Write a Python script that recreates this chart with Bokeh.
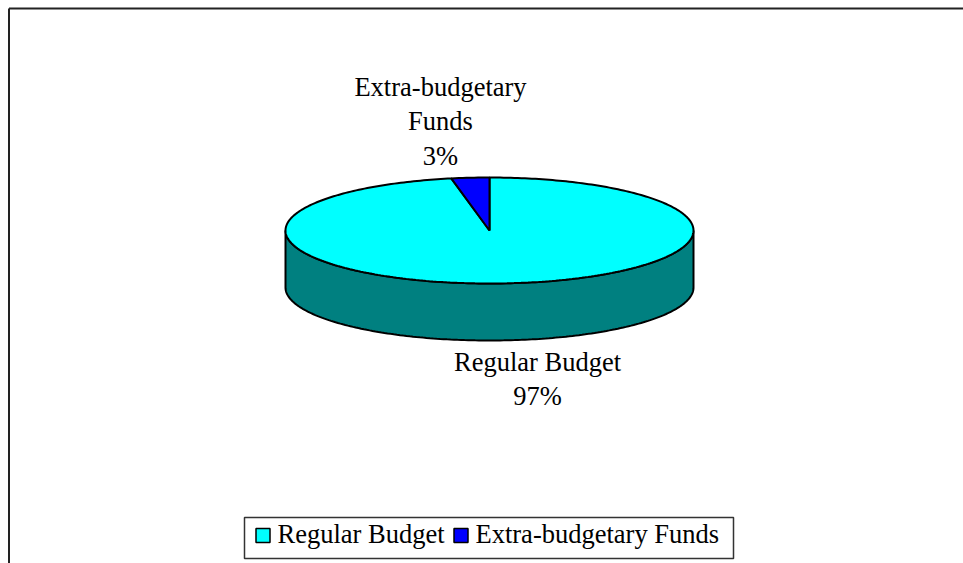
import math
import textwrap
from bokeh.plotting import figure
from bokeh.models import Range1d, ColumnDataSource
from bokeh.embed import file_html
from bokeh.resources import INLINE
from bokeh.core.properties import value

# ---- data ----
categories = ["Regular Budget", "Extra-budgetary Funds"]
values = [97, 3]
top_colors = ["#00FFFF", "#0000FF"]
side_colors = ["#008080", "#000080"]

# ---- layout (pixel space of the figure, y grows downward) ----
W, H = 963, 563
CX, CY = 489, 230          # centre of top ellipse
A, B = 204, 53             # semi axes of top ellipse
DEPTH = 57                 # thickness of the 3D pie
FONT = "Liberation Serif"
FS = "26.5px"
LINE_H = 34.5
label_anchor = {"Regular Budget": (537, 361), "Extra-budgetary Funds": (440, 86)}
legend_box = (244, 733, 517, 558)
legend_sq_x = [262.5, 460.5]
legend_txt_x = [277, 475]
legend_y = 535
legend_base = 533
SQ = 14

p = figure(width=W, height=H, x_range=Range1d(0, W), y_range=Range1d(H, 0),
           output_backend="svg", toolbar_location=None, min_border=0,
           x_axis_location=None, y_axis_location=None,
           outline_line_color=None, background_fill_color="white",
           border_fill_color="white")
p.grid.visible = False

# chart frame (top and left edges visible)
p.line(x=[8.5, 8.5], y=[H, 8], line_color="#222222", line_width=2)
p.line(x=[8.5, W], y=[8, 8], line_color="#222222", line_width=2)


def pt(theta_deg, dy=0.0):
    t = math.radians(theta_deg)
    return CX + A * math.cos(t), CY - B * math.sin(t) + dy


def arc(lo, hi, dy=0.0, step=1.0):
    n = max(2, int(abs(hi - lo) / step) + 1)
    return [pt(lo + (hi - lo) * i / (n - 1), dy) for i in range(n)]


total = float(sum(values))
start = 90.0
slices = []
for cat, v in zip(categories, values):
    sweep = v / total * 360.0
    end = start - sweep
    slices.append((end, start))
    start = end

# side faces (front half only)
side_xs, side_ys, side_fc = [], [], []
for (lo, hi), col in zip(slices, side_colors):
    for k in range(-3, 3):
        flo, fhi = 180 + 360 * k, 360 + 360 * k
        a0, a1 = max(lo, flo), min(hi, fhi)
        if a1 > a0:
            top = arc(a0, a1)
            bot = arc(a1, a0, DEPTH)
            pts = top + bot
            side_xs.append([q[0] for q in pts])
            side_ys.append([q[1] for q in pts])
            side_fc.append(col)
p.patches(xs=side_xs, ys=side_ys, fill_color=side_fc, line_color="black", line_width=2)

# top faces
top_xs, top_ys = [], []
for (lo, hi) in slices:
    pts = [(CX, CY)] + arc(lo, hi) + [(CX, CY)]
    top_xs.append([q[0] for q in pts])
    top_ys.append([q[1] for q in pts])
p.patches(xs=top_xs, ys=top_ys, fill_color=top_colors, line_color="black", line_width=2)

# data labels
lx, ly, lt = [], [], []
for cat, v in zip(categories, values):
    lines = textwrap.fill(cat, 16).split("\n") + [f"{round(v / total * 100)}%"]
    ax, ay = label_anchor[cat]
    for i, s in enumerate(lines):
        lx.append(ax)
        ly.append(ay + i * LINE_H)
        lt.append(s)
p.text(x="x", y="y", text="t", source=ColumnDataSource(dict(x=lx, y=ly, t=lt)),
       text_font=value(FONT), text_font_size=value(FS), text_color="black",
       text_align="center", text_baseline="alphabetic")

# legend
l, r, t, b = legend_box
p.quad(left=[l], right=[r], top=[t], bottom=[b], fill_color="white",
       line_color="#333333", line_width=1.5)
p.rect(x=legend_sq_x, y=[legend_y] * len(categories), width=SQ, height=SQ,
       fill_color=top_colors, line_color="black", line_width=1.5)
p.text(x=legend_txt_x, y=[legend_base] * len(categories), text=categories,
       text_font=value(FONT), text_font_size=value(FS), text_color="black",
       text_align="left", text_baseline="alphabetic")

open("out.html", "w").write(file_html(p, INLINE))
